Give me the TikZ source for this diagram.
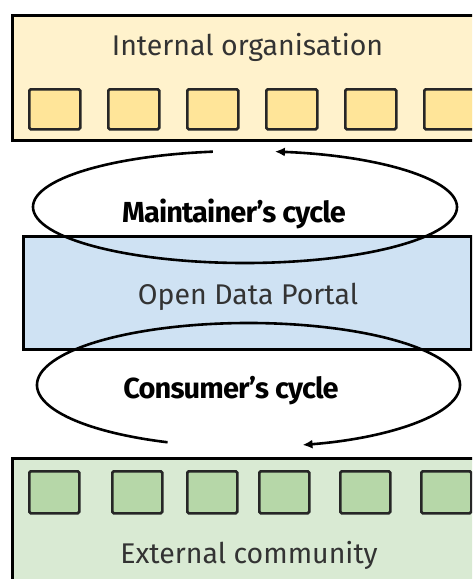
\documentclass[tikz,border=0pt]{standalone}
\usepackage{fontspec}
\setmainfont{Fira Sans}
\usetikzlibrary{arrows.meta}
\definecolor{orgfill}{HTML}{FFF2CC}
\definecolor{orgunit}{HTML}{FFE599}
\definecolor{portalfill}{HTML}{CFE2F3}
\definecolor{commfill}{HTML}{D9EAD3}
\definecolor{communit}{HTML}{B6D7A8}
\definecolor{inktext}{HTML}{333333}

\begin{document}
\begin{tikzpicture}[x=1pt,y=1pt,
  panel/.style={draw=black, line width=2.5pt, inner sep=0, anchor=north west},
  unitbox/.style={draw=black!85, line width=2.5pt, rounded corners=1.5pt, inner sep=0,
    anchor=north west, minimum width=51, minimum height=40},
  caption/.style={font=\fontsize{28.5}{32}\selectfont, text=inktext, anchor=base, inner sep=0},
  cyclecaption/.style={font=\fontsize{29}{32}\selectfont\bfseries\addfontfeatures{LetterSpace=-3},
    text=black, anchor=base, inner sep=0},
  cyclearrow/.style={line width=2.6pt, -{Latex[length=10pt,width=9pt]}}]

\useasboundingbox (0,0) rectangle (472,-579);
\clip (0,0) rectangle (472,-579);

% internal organisation
\node[panel, fill=orgfill, minimum width=480, minimum height=125] (org) at (11,-14) {};
\node[caption] (orgtext) at (247.5,-55) {Internal organisation};
\foreach \x [count=\i] in {28,107,186,265,344,423}
  \node[unitbox, fill=orgunit] (ou\i) at (\x,-88) {};

% open data portal
\node[panel, fill=portalfill, minimum width=448, minimum height=113] (portal) at (22,-235) {};
\node[caption] (portaltext) at (248,-304) {Open Data Portal};

% external community
\node[panel, fill=commfill, minimum width=480, minimum height=150] (comm) at (11,-457) {};
\node[caption] (commtext) at (249,-563) {External community};
\foreach \x [count=\i] in {28,111,186,258,339,420}
  \node[unitbox, fill=communit, minimum width=50, minimum height=42] (cu\i) at (\x,-470) {};

% maintainer's cycle
\path (245,-207) ++(98.7:212 and 56) coordinate (mstart);
\draw[cyclearrow] (mstart) arc[start angle=98.7, end angle=441.9, x radius=212, y radius=56];
\node[cyclecaption] (mtext) at (234,-222) {Maintainer’s cycle};

% consumer's cycle
\path (248.5,-385) ++(247.5:211.5 and 62) coordinate (cstart);
\draw[cyclearrow] (cstart) arc[start angle=247.5, end angle=-75.2, x radius=211.5, y radius=62];
\node[cyclecaption] (ctext) at (231,-398) {Consumer’s cycle};
\end{tikzpicture}
\end{document}
